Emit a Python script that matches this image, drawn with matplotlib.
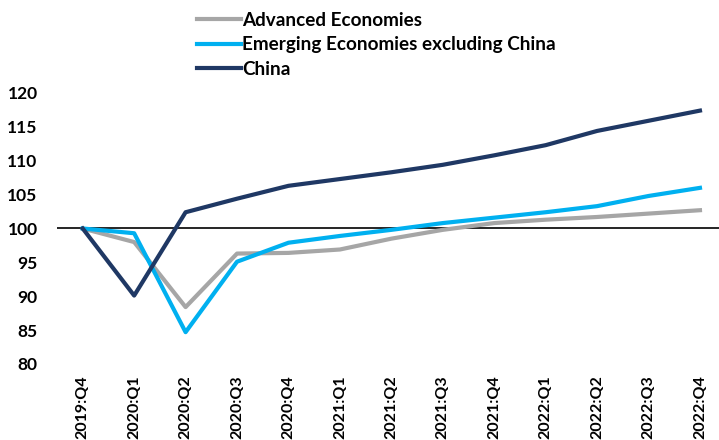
import matplotlib
matplotlib.use('Agg')
import matplotlib.pyplot as plt

plt.rcParams['font.family'] = ['Lato', 'DejaVu Sans']
plt.rcParams['font.weight'] = 'bold'

# Quarters and index values (2019:Q4 = 100)
quarters = ['2019:Q4', '2020:Q1', '2020:Q2', '2020:Q3', '2020:Q4',
            '2021:Q1', '2021:Q2', '2021:Q3', '2021:Q4',
            '2022:Q1', '2022:Q2', '2022:Q3', '2022:Q4']
advanced = [100, 98.0, 88.4, 96.3, 96.4, 96.9, 98.5, 99.8, 100.8, 101.3, 101.7, 102.2, 102.7]
emerging = [100, 99.3, 84.7, 95.1, 97.9, 98.9, 99.8, 100.8, 101.6, 102.4, 103.3, 104.8, 106.0]
china = [100, 90.1, 102.4, 104.4, 106.3, 107.3, 108.3, 109.4, 110.8, 112.3, 114.4, 115.9, 117.4]

fig = plt.figure(figsize=(7.19, 4.40), dpi=100)
ax = fig.add_axes([57 / 719, 1 - 364 / 440, 1 - 57 / 719, (364 - 93) / 440])

x = range(len(quarters))
ax.plot(x, advanced, color='#A6A6A6', lw=3, label='Advanced Economies')
ax.plot(x, emerging, color='#00B0F0', lw=3, label='Emerging Economies excluding China')
ax.plot(x, china, color='#1F3864', lw=3, label='China')
ax.axhline(100, color='black', lw=1.2, zorder=0)

ax.set_xlim(-0.5, 12.37)
ax.set_ylim(80, 120)
ax.set_yticks(range(80, 121, 5))
ax.set_xticks(list(x))
ax.set_xticklabels(quarters, rotation=90, fontsize=11.5)
ax.tick_params(axis='y', labelsize=12.5, length=0, pad=14)
ax.tick_params(axis='x', length=0, pad=8)
for s in ax.spines.values():
    s.set_visible(False)

fig.legend(loc='upper left', bbox_to_anchor=(193 / 719, 1 - 8 / 440), frameon=False,
           fontsize=13.6, handlelength=2.35, handletextpad=0.05, labelspacing=0.40,
           borderaxespad=0.0, borderpad=0.2)

fig.savefig('out.png', dpi=100)
